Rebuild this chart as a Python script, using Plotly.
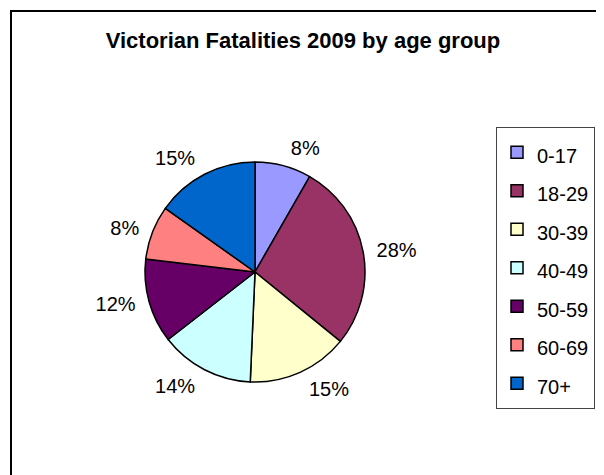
import plotly.graph_objects as go

age_groups = ["0-17", "18-29", "30-39", "40-49", "50-59", "60-69", "70+"]
fatalities = [24, 80, 43, 40, 36, 23, 44]
slice_colors = ["#9999FF", "#993366", "#FFFFCC", "#CCFFFF", "#660066", "#FF8080", "#0066CC"]
chart_title = "Victorian Fatalities 2009 by age group"

# page has an 8px body margin, so figure coordinates = page coordinates - 8
W, H = 596, 467
cx, cy, r = 247, 264, 110
r_lab = r + 8

FONT = "Liberation Sans, Arial"
legend_labels = ["<span style='font-size:20px'>%s</span>" % g for g in age_groups]


def dom(rad):
    return dict(x=[(cx - rad) / W, (cx + rad) / W], y=[(H - cy - rad) / H, (H - cy + rad) / H])


fig = go.Figure()
fig.add_trace(go.Pie(
    labels=legend_labels,
    values=fatalities,
    sort=False,
    direction="clockwise",
    rotation=0,
    marker=dict(colors=slice_colors, line=dict(color="black", width=1.5)),
    textinfo="none",
    hoverinfo="label+value+percent",
    domain=dom(r),
))
# transparent companion pie that carries the percentage labels slightly further out
fig.add_trace(go.Pie(
    labels=legend_labels,
    values=fatalities,
    sort=False,
    direction="clockwise",
    rotation=0,
    marker=dict(colors=["rgba(0,0,0,0)"] * len(age_groups), line=dict(width=0)),
    textposition="outside",
    texttemplate="%{percent:.0%}",
    textfont=dict(family=FONT, size=20, color="black"),
    hoverinfo="skip",
    showlegend=False,
    domain=dom(r_lab),
))

fig.update_layout(
    width=W, height=H,
    margin=dict(l=0, r=0, t=0, b=0),
    paper_bgcolor="white",
    plot_bgcolor="white",
    font=dict(family=FONT, color="black"),
    title=dict(text="<b>%s</b>" % chart_title, x=0.5 * 596 / 596 - 3 / W, xref="paper", xanchor="center",
               y=1 - 32 / H, yref="paper", yanchor="middle",
               font=dict(family=FONT, size=22, color="black")),
    showlegend=True,
    legend=dict(x=488 / W, xanchor="left", y=1 - 119 / H, yanchor="top",
                bordercolor="#444444", borderwidth=1, bgcolor="white",
                font=dict(family=FONT, size=27.3, color="black"),
                itemclick=False, itemdoubleclick=False),
    shapes=[dict(type="rect", xref="paper", yref="paper",
                 x0=3 / W, x1=593 / W, y0=-0.05, y1=1 - 3 / H,
                 line=dict(color="black", width=2), fillcolor="rgba(0,0,0,0)")],
)

fig.write_html("out.html")
